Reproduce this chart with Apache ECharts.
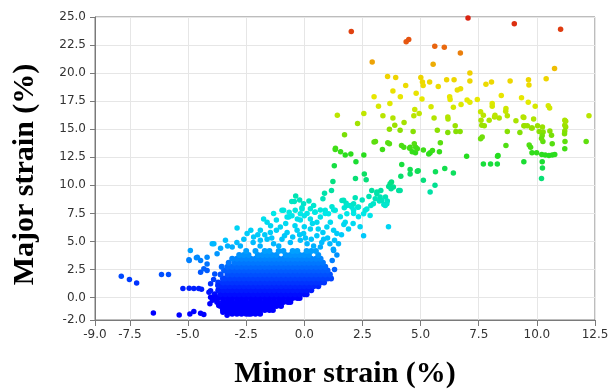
<!DOCTYPE html>
<html>
<head>
<meta charset="utf-8">
<script src="https://cdn.jsdelivr.net/npm/echarts@6/dist/echarts.min.js"></script>
<style>html,body{margin:0;padding:0;background:#fff;}#chart{width:609px;height:389px;}</style>
</head>
<body>
<div id="chart"></div>
<script>
// Tick labels
const xTicks = [-9, -7.5, -5, -2.5, 0, 2.5, 5, 7.5, 10, 12.5];
const yTicks = [-2, 0, 2.5, 5, 7.5, 10, 12.5, 15, 17.5, 20, 22.5, 25];

// Points [minor strain, major strain]
const topPoints = [
  [2.02,23.7],[4.38,22.8],[4.49,23.0],[7.04,24.9],[9.03,24.4],[11.02,23.9],[5.61,22.4],[6.02,22.3],[6.71,21.8],[2.92,21.0],[5.54,20.8],[10.76,20.4],
  [3.58,19.7],[3.93,19.6],[5.01,19.6],[5.08,19.2],[5.39,19.2],[6.12,19.4],[6.44,19.4],[7.12,20.0],[7.12,19.3],[7.81,19.0],[8.05,19.2],[8.85,19.3],[9.64,19.4],[9.66,18.95],[10.4,19.5],
  [4.36,18.9],[5.11,18.9],[5.76,18.8],[6.58,18.5],[6.72,18.6],[3.81,18.4],[4.81,18.2],[6.25,17.9],[6.27,17.65],[3.0,17.9],[4.13,17.9],[5.06,17.7],[8.47,18.0],[9.34,17.8],[7.0,17.6],[7.12,17.4],[7.44,17.65],[9.63,17.4],
  [3.19,17.05],[3.68,17.3],[5.45,17.0],[6.41,16.96],[6.74,17.2],[8.08,17.3],[8.08,17.05],[9.93,17.05],[10.49,17.1],[10.55,16.9],
  [1.42,16.25],[2.56,16.4],[3.38,16.2],[3.81,16.0],[4.75,16.75],[4.71,16.2],[4.94,16.4],[5.58,16.0],[6.17,16.1],[6.18,15.9],[7.58,16.55],[7.6,15.8],[7.95,15.8],[8.18,16.1],[8.38,16.0],[8.67,16.85],[8.66,16.6],[8.73,16.2],[9.1,15.75],[9.44,16.05],[9.86,15.9],[11.24,15.7],[12.24,16.2],[7.7,16.25],[8.2,16.25],[9.41,16.1]
];
const greenPoints = [
  [2.29,15.5],[3.66,15.0],[3.89,15.35],[4.29,15.6],[4.12,14.9],[4.68,14.8],[5.72,14.9],[6.17,14.7],[6.49,15.3],[6.52,14.8],[6.7,14.8],[7.63,15.36],[7.74,15.3],[8.73,14.8],[9.27,14.7],[9.47,15.3],[9.77,15.1],[10.1,14.8],[10.24,15.2],[10.56,14.85],[11.24,15.2],[11.2,14.85],[10.27,14.76],
  [1.73,14.5],[3.06,13.9],[3.59,13.8],[3.66,13.7],[4.18,13.55],[4.28,13.4],[4.55,13.4],[4.73,13.7],[4.79,13.4],[5.85,13.8],[7.58,14.15],[7.65,14.3],[8.67,13.55],[9.67,13.6],[10.23,14.45],[10.26,13.9],[10.66,13.7],[11.19,14.6],[11.21,13.9],[12.12,13.9],[10.63,14.46],[10.2,14.17],
  [1.34,13.3],[3.36,13.2],[4.53,13.3],[4.64,13.0],[4.78,12.9],[4.86,13.25],[5.12,13.15],[5.41,12.9],[5.51,13.1],[5.35,12.8],[5.81,13.0],[6.98,12.6],[8.33,12.65],[9.73,13.4],[9.79,12.9],[9.99,12.9],
  [10.21,12.74],[10.36,12.7],[10.52,12.65],[10.66,12.7],[10.77,12.74],[10.23,12.1],[10.24,11.55],[10.2,10.6],[11.2,15.8],[11.2,15.35],[11.2,13.25],
  [9.59,15.3],[9.8,15.1],[10.03,15.3],[9.44,15.3],[7.7,11.9],[8.01,11.9],[8.3,11.9],[8.31,12.6],[9.44,12.1],
  [4.19,11.85],[4.55,11.4],[4.55,11.0],[4.86,11.25],[5.12,10.45],[5.64,11.2],[5.62,10.0],[6.04,11.5],[6.41,11.1],[4.15,10.8],[3.75,10.3],[4.9,11.3],[5.41,9.4],
  [1.33,13.2],[1.56,13.0],[1.76,12.7],[2.0,12.8],[2.22,12.1],[2.56,12.7],[1.29,11.75],[2.58,11.0],[2.2,10.6],[2.66,10.5],[1.23,10.35],[1.17,9.55],[3.0,13.87]
];
const cyanPoints = [
  [0.87,9.3],[0.8,8.8],[-0.37,9.05],[-0.43,8.55],[-0.54,8.55],[2.19,8.9],[2.49,8.7],[2.78,9.0],[2.9,9.55],[3.12,9.4],[3.29,9.55],[3.05,8.8],[3.23,8.6],[3.49,8.96],[3.57,8.6],[3.63,9.9],[3.73,9.7],[4.06,9.55],
  [2.86,8.2],[3.42,8.3],[1.62,8.65],[1.8,8.4],[1.97,8.2],[1.72,8.0],[2.05,8.05],[2.3,8.05],[3.69,10.15],[4.12,9.55],[2.55,7.47],[3.33,8.66],[3.55,8.37],
  [-0.03,8.37],[-0.1,7.9],[0.4,8.2],[0.69,7.8],[1.19,8.1],[1.26,7.8],[1.69,8.66],[1.83,8.2],[2.12,8.37],[1.55,7.2],[1.76,6.7],[2.12,7.5],[2.33,7.2],
  [1.26,6.0],[1.4,5.7],[1.47,4.8],[1.26,4.2],[2.4,6.3],[2.55,5.5],[3.62,6.3],[2.69,7.9],[2.97,8.37],[3.12,9.26],[3.26,8.96],[3.48,8.2],[3.83,9.85],
  [-0.89,7.77],[-0.67,7.17],[-0.39,7.77],[-0.17,7.47],[0.26,7.92],[0.47,7.62],[0.9,7.77],[1.04,7.47],[1.33,7.77],[1.83,7.47],[2.12,7.77],[2.33,8.06],[2.62,7.77],[2.83,7.32],
  [-1.75,7.0],[-1.6,6.7],[-1.32,7.5],[-0.96,7.77],[-0.74,7.17],[-0.53,7.3],[-0.17,6.9],[0.12,7.5],[0.26,7.0],[0.54,6.7],[0.69,7.17],[0.97,6.28],[1.12,6.7],
  [-1.89,6.0],[-1.46,5.8],[-1.03,6.28],[-0.74,5.8],[-0.31,6.0],[-0.03,5.7],[0.26,6.1],[0.54,5.5],[0.83,5.2],
  [-2.46,5.7],[-2.18,5.4],[-1.89,5.1],[-1.6,5.2],[-1.32,4.8],[-0.96,5.2],[-0.6,4.9],[-0.17,5.1],[0.12,4.8],[0.4,4.6],[0.69,4.5],
  [-2.89,6.2],[-3.89,4.8],[-3.39,5.1],[-3.1,4.5],[-2.75,4.6],
  [-2.2,4.9],[-1.9,4.6],[-1.7,5.6],[-1.4,5.3],[-1.2,6.0],[-1.1,4.6],[-0.85,5.5],[-0.5,5.4],[-0.4,6.4],[-0.2,5.6],[0.0,6.3],[0.05,5.3],[0.3,5.2],[0.35,6.6],[0.6,6.1],[0.8,5.8],
  [-0.8,6.6],[-0.65,7.6],[-0.3,7.0],[0.0,7.3],[0.45,7.6],[-1.2,6.9],[-1.45,6.4],[-2.0,5.6],[-2.6,5.2],[-2.3,6.0],[-0.1,8.0],[0.2,8.6],[-0.2,8.7],[0.9,7.5],
  [1.0,5.3],[1.1,4.8],[0.75,4.9],[-3.3,4.6],[-3.6,4.4],[-2.9,4.9],[1.3,5.1],[1.6,5.6],[1.9,6.1],[2.1,6.6],[1.7,6.5],[1.3,2.5],[1.2,3.3],[1.4,3.8],[1.25,4.3]
];
const bluePoints = [
  [-7.87,1.9],[-7.52,1.6],[-7.21,1.3],[-6.14,2.05],[-5.84,2.05],[-6.49,-1.37],[-5.38,-1.55],[-4.92,-1.46],[-4.75,-1.25],[-4.46,-1.4],[-4.32,-1.5],[-3.32,-1.58],
  [-5.22,0.8],[-4.95,0.83],[-4.75,0.8],[-4.54,0.8],[-4.42,0.75],[-4.03,1.22],[-4.1,0.47],[-4.03,0.03],[-4.06,-0.56],[-3.72,1.07],[-3.68,-0.7],[-3.82,0.03],[-4.03,0.6],
  [-3.03,-1.16],[-2.75,-0.87],[-2.39,-1.46],[-3.5,-1.3],[-3.3,-1.35],[-3.95,-0.25],[-3.9,1.6],[-3.85,2.1],
  [-4.9,4.2],[-4.95,3.3],[-4.64,3.55],[-4.46,2.26],[-4.32,2.56],[-4.18,2.4],[-4.18,3.0],[-3.96,4.8],[-4.46,3.3],[-4.18,3.6],[-3.75,3.9],[-4.6,3.6],[-4.96,3.37]
];
const blobRows = [
  [-1.45, [-3.1,-2.9,-2.7,-2.5,-2.3,-2.1,-1.9]],
  [-1.1, [-3.5,-3.3,-3.1,-2.9,-2.7,-2.5,-2.3,-2.1,-1.9,-1.7,-1.5,-1.35]],
  [-0.75, [-3.6,-3.4,-3.2,-3.0,-2.8,-2.6,-2.4,-2.2,-2.0,-1.8,-1.6,-1.4,-1.2,-1.0]],
  [-0.4, [-3.75,-3.5,-3.3,-3.1,-2.9,-2.7,-2.5,-2.3,-2.1,-1.9,-1.7,-1.5,-1.3,-1.1,-0.9,-0.7,-0.6]],
  [-0.05, [-3.7,-3.5,-3.3,-3.1,-2.9,-2.7,-2.5,-2.3,-2.1,-1.9,-1.7,-1.5,-1.3,-1.1,-0.9,-0.7,-0.5,-0.3,-0.2]],
  [0.3, [-3.85,-3.6,-3.4,-3.2,-3.0,-2.8,-2.6,-2.4,-2.2,-2.0,-1.8,-1.6,-1.4,-1.2,-1.0,-0.8,-0.6,-0.4,-0.2,0.0,0.1]],
  [0.65, [-3.7,-3.5,-3.3,-3.1,-2.9,-2.7,-2.5,-2.3,-2.1,-1.9,-1.7,-1.5,-1.3,-1.1,-0.9,-0.7,-0.5,-0.3,-0.1,0.1,0.3]],
  [1.0, [-3.55,-3.4,-3.2,-3.0,-2.8,-2.6,-2.4,-2.2,-2.0,-1.8,-1.6,-1.4,-1.2,-1.0,-0.8,-0.6,-0.4,-0.2,0.0,0.2,0.4,0.6]],
  [1.35, [-3.7,-3.5,-3.3,-3.1,-2.9,-2.7,-2.5,-2.3,-2.1,-1.9,-1.7,-1.5,-1.3,-1.1,-0.9,-0.7,-0.5,-0.3,-0.1,0.1,0.3,0.5,0.7,0.85]],
  [1.7, [-3.5,-3.4,-3.2,-3.0,-2.8,-2.6,-2.4,-2.2,-2.0,-1.8,-1.6,-1.4,-1.2,-1.0,-0.8,-0.6,-0.4,-0.2,0.0,0.2,0.4,0.6,0.8,1.0,1.15]],
  [2.05, [-3.6,-3.3,-3.1,-2.9,-2.7,-2.5,-2.3,-2.1,-1.9,-1.7,-1.5,-1.3,-1.1,-0.9,-0.7,-0.5,-0.3,-0.1,0.1,0.3,0.5,0.7,0.9,1.1]],
  [2.4, [-3.45,-3.3,-3.2,-3.0,-2.8,-2.6,-2.4,-2.2,-2.0,-1.8,-1.6,-1.4,-1.2,-1.0,-0.8,-0.6,-0.4,-0.2,0.0,0.2,0.4,0.6,0.8,1.0]],
  [2.75, [-3.55,-3.3,-3.1,-2.9,-2.7,-2.5,-2.3,-2.1,-1.9,-1.7,-1.5,-1.3,-1.1,-0.9,-0.7,-0.5,-0.3,-0.1,0.1,0.3,0.5,0.7,0.9]],
  [3.1, [-3.25,-3.0,-2.8,-2.6,-2.4,-2.2,-2.0,-1.8,-1.6,-1.4,-1.2,-1.0,-0.8,-0.6,-0.4,-0.2,0.0,0.2,0.4,0.6,0.8]],
  [3.45, [-3.1,-2.9,-2.7,-2.5,-2.3,-2.1,-1.9,-1.7,-1.5,-1.3,-1.1,-0.9,-0.7,-0.5,-0.3,-0.1,0.1,0.3,0.5,0.7]],
  [3.8, [-2.8,-2.6,-2.4,-2.0,-1.8,-1.6,-1.4,-1.2,-0.8,-0.6,-0.4,-0.2,0.0,0.2,0.6]],
  [4.15, [-2.5,-2.1,-1.7,-1.5,-1.1,-0.9,-0.5,-0.3,0.1,0.3,0.5]]
];

const blobPoints = [];
blobRows.forEach(function (row) {
  row[1].forEach(function (x) { blobPoints.push([x, row[0]]); });
});
const sparsePoints = bluePoints.concat(cyanPoints, greenPoints, topPoints);

const chart = echarts.init(document.getElementById('chart'), null, {renderer: 'canvas'});
const labelStyle = {fontFamily: 'DejaVu Sans', fontSize: 12, color: '#333'};
const titleStyle = {fontFamily: 'Liberation Serif', fontWeight: 'bold', fontSize: 30, color: '#000'};
chart.setOption({
  animation: false,
  backgroundColor: '#fff',
  grid: {left: 95, right: 14, top: 17, bottom: 69, containLabel: false, outerBoundsMode: 'none',
         show: true, borderColor: '#7a7a7a', borderWidth: 1, backgroundColor: 'transparent'},
  xAxis: {
    type: 'value', min: -9, max: 12.5,
    name: 'Minor strain (%)', nameLocation: 'middle', nameGap: 39, nameTextStyle: titleStyle,
    axisLine: {show: true, onZero: false, lineStyle: {color: '#7a7a7a', width: 1}},
    axisTick: {show: true, length: 6, customValues: xTicks, lineStyle: {color: '#7a7a7a'}},
    axisLabel: Object.assign({margin: 9, customValues: xTicks, formatter: function (v) { return v.toFixed(1); }}, labelStyle),
    splitLine: {show: true, lineStyle: {color: '#e6e6e6', width: 1}}
  },
  yAxis: {
    type: 'value', min: -2, max: 25,
    name: 'Major strain (%)', nameLocation: 'middle', nameGap: 55,
    nameTextStyle: Object.assign({padding: [0, 12, 0, 0]}, titleStyle),
    axisLine: {show: true, onZero: false, lineStyle: {color: '#7a7a7a', width: 1}},
    axisTick: {show: true, length: 5, customValues: yTicks, lineStyle: {color: '#7a7a7a'}},
    axisLabel: Object.assign({margin: 9, customValues: yTicks, formatter: function (v) { return v.toFixed(1); }}, labelStyle),
    splitLine: {show: true, lineStyle: {color: '#e6e6e6', width: 1}}
  },
  visualMap: {
    show: false, type: 'continuous', dimension: 1, min: 0, max: 25, seriesIndex: [0, 1],
    inRange: {color: ['#0000ff', '#0060ff', '#00c0ff', '#00e8e8', '#00e090', '#20dd20', '#90e000', '#e6ea00', '#f0d000', '#e86010', '#d82010']}
  },
  series: [{
    type: 'scatter', data: blobPoints, symbol: 'circle', symbolSize: 6,
    itemStyle: {opacity: 1, borderWidth: 0}, large: false, silent: true
  }, {
    type: 'scatter', data: sparsePoints, symbol: 'circle', symbolSize: 5.5,
    itemStyle: {opacity: 1, borderWidth: 0}, large: false, silent: true
  }]
});
</script>
</body>
</html>
